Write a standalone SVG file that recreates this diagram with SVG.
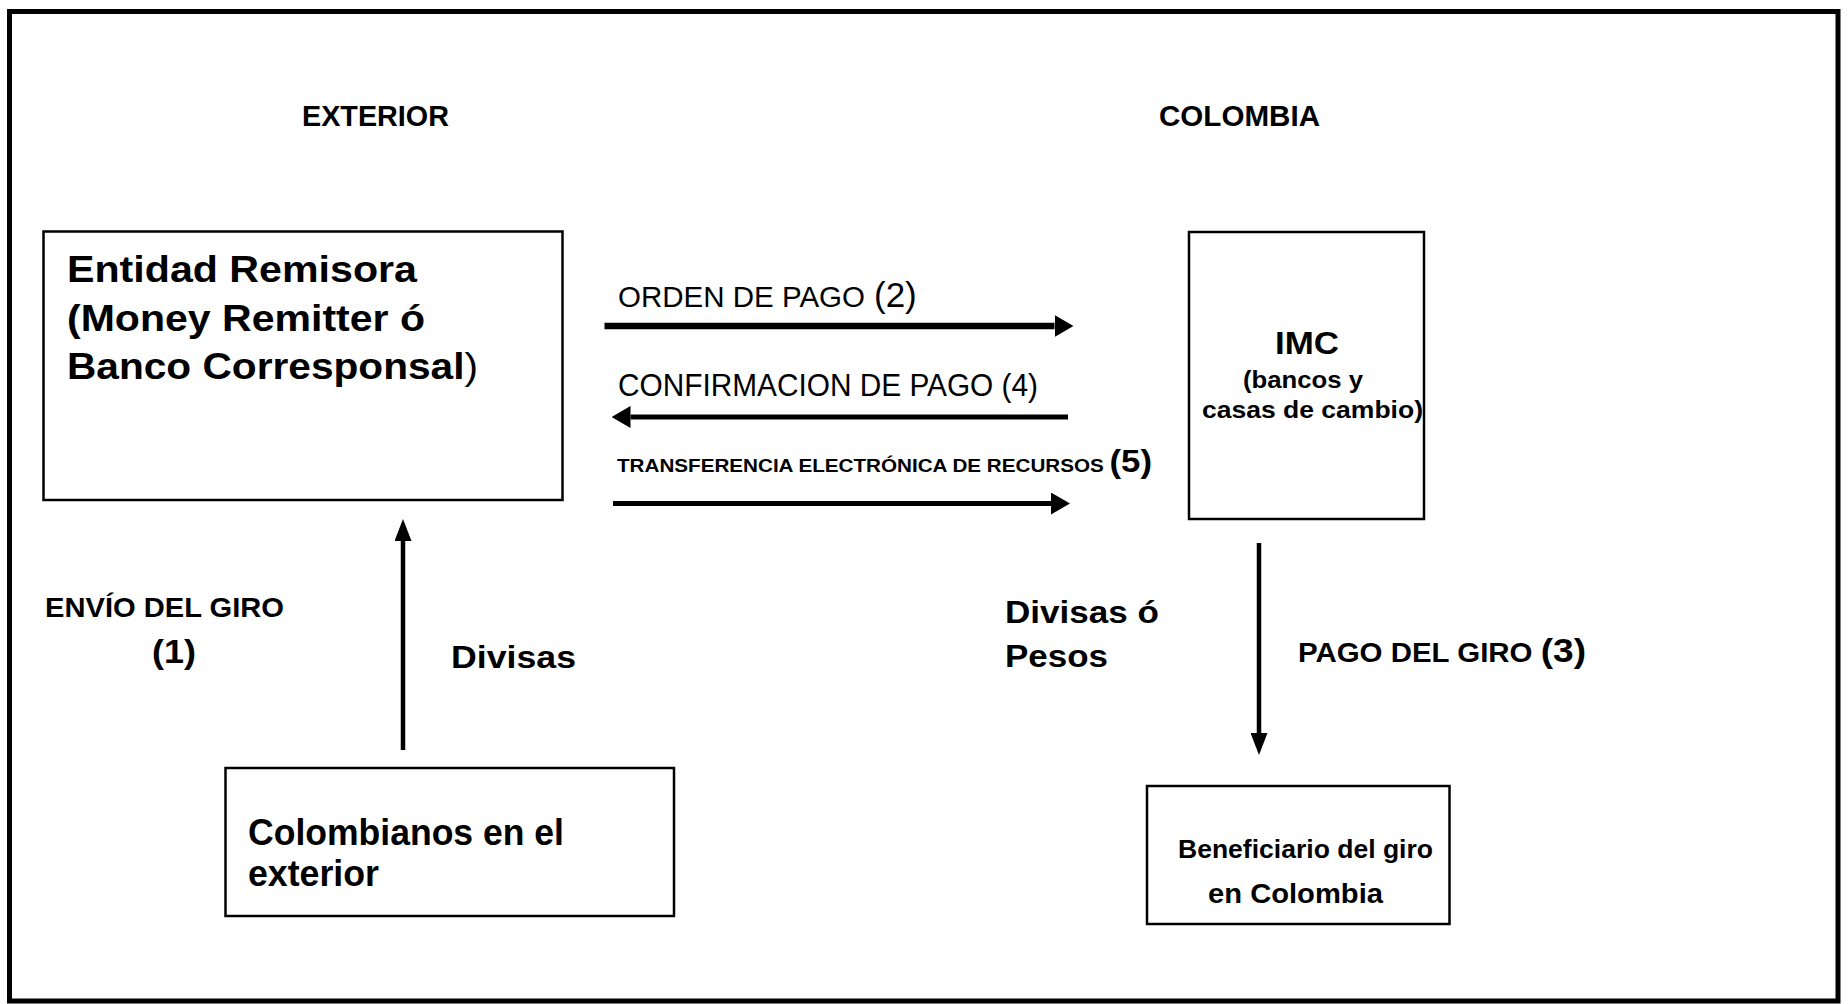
<svg xmlns="http://www.w3.org/2000/svg" width="1848" height="1004" viewBox="0 0 1848 1004">
  <style>
    text { font-family: "Liberation Sans", Arial, sans-serif; fill: #000; }
    .b { font-weight: bold; }
    .r { font-weight: normal; }
    .box { fill: #fff; stroke: #000; stroke-width: 2.5; }
    .frame { fill: #fff; stroke: #000; stroke-width: 5; }
    .conn { stroke: #000; fill: none; }
  </style>
  <defs>
    <marker id="ah" markerUnits="userSpaceOnUse" viewBox="0 0 19 22" markerWidth="19" markerHeight="22" refX="0" refY="11" orient="auto">
      <path d="M0,0 L19,11 L0,22 z" fill="#000"/>
    </marker>
    <marker id="av" markerUnits="userSpaceOnUse" viewBox="0 0 22 17" markerWidth="22" markerHeight="17" refX="0" refY="8.5" orient="auto">
      <path d="M0,0 L22,8.5 L0,17 z" fill="#000"/>
    </marker>
  </defs>

  <rect class="frame" x="9.5" y="11.5" width="1828.5" height="989.5"/>

  <g id="region-labels">
    <text class="b" x="302" y="126" font-size="29" textLength="147" lengthAdjust="spacingAndGlyphs">EXTERIOR</text>
    <text class="b" x="1159" y="126" font-size="29" textLength="161" lengthAdjust="spacingAndGlyphs">COLOMBIA</text>
  </g>

  <g id="node-entidad">
    <rect class="box" x="43.5" y="231.5" width="519" height="268.5"/>
    <text class="b" x="67" y="282" font-size="37" textLength="350" lengthAdjust="spacingAndGlyphs">Entidad Remisora</text>
    <text class="b" x="67" y="331" font-size="37" textLength="358" lengthAdjust="spacingAndGlyphs">(Money Remitter ó</text>
    <text class="b" x="67" y="379" font-size="37" textLength="411" lengthAdjust="spacingAndGlyphs">Banco Corresponsal<tspan class="r">)</tspan></text>
  </g>

  <g id="node-imc">
    <rect class="box" x="1189" y="232" width="235" height="287"/>
    <text class="b" x="1275" y="354" font-size="32" textLength="64" lengthAdjust="spacingAndGlyphs">IMC</text>
    <text class="b" x="1243" y="388" font-size="24" textLength="120" lengthAdjust="spacingAndGlyphs">(bancos y</text>
    <text class="b" x="1202" y="418" font-size="24" textLength="221" lengthAdjust="spacingAndGlyphs">casas de cambio)</text>
  </g>

  <g id="node-colombianos">
    <rect class="box" x="225.5" y="768" width="448.5" height="148"/>
    <text class="b" x="248" y="845" font-size="36" textLength="316" lengthAdjust="spacingAndGlyphs">Colombianos en el</text>
    <text class="b" x="248" y="886" font-size="36" textLength="131" lengthAdjust="spacingAndGlyphs">exterior</text>
  </g>

  <g id="node-beneficiario">
    <rect class="box" x="1147" y="786" width="302.5" height="138"/>
    <text class="b" x="1178" y="858" font-size="25" textLength="255" lengthAdjust="spacingAndGlyphs">Beneficiario del giro</text>
    <text class="b" x="1208" y="903" font-size="27" textLength="175" lengthAdjust="spacingAndGlyphs">en Colombia</text>
  </g>

  <g id="connectors">
    <line class="conn" x1="604.5" y1="326" x2="1054.5" y2="326" stroke-width="6.5" marker-end="url(#ah)"/>
    <line class="conn" x1="1068" y1="417" x2="630.5" y2="417" stroke-width="5" marker-end="url(#ah)"/>
    <line class="conn" x1="613" y1="503.5" x2="1051" y2="503.5" stroke-width="5" marker-end="url(#ah)"/>
    <line class="conn" x1="403" y1="750" x2="403" y2="541" stroke-width="4.5" marker-end="url(#av)"/>
    <line class="conn" x1="1259" y1="543" x2="1259" y2="733" stroke-width="4.5" marker-end="url(#av)"/>
  </g>

  <g id="connector-labels">
    <text class="r" x="618" y="307" font-size="29.5">ORDEN DE PAGO</text>
    <text class="r" x="874" y="307" font-size="35">(2)</text>
    <text class="r" x="618" y="396" font-size="32" textLength="420" lengthAdjust="spacingAndGlyphs">CONFIRMACION DE PAGO (4)</text>
    <text class="b" x="617" y="472" font-size="19" textLength="535" lengthAdjust="spacingAndGlyphs">TRANSFERENCIA ELECTRÓNICA DE RECURSOS <tspan font-size="32">(5)</tspan></text>
    <text class="b" x="45" y="617" font-size="28" textLength="239" lengthAdjust="spacingAndGlyphs">ENVÍO DEL GIRO</text>
    <text class="b" x="152" y="663" font-size="34" textLength="44" lengthAdjust="spacingAndGlyphs">(1)</text>
    <text class="b" x="451" y="668" font-size="32" textLength="125" lengthAdjust="spacingAndGlyphs">Divisas</text>
    <text class="b" x="1005" y="623" font-size="32" textLength="154" lengthAdjust="spacingAndGlyphs">Divisas ó</text>
    <text class="b" x="1005" y="667" font-size="32" textLength="103" lengthAdjust="spacingAndGlyphs">Pesos</text>
    <text class="b" x="1298" y="662" font-size="27" textLength="288" lengthAdjust="spacingAndGlyphs">PAGO DEL GIRO <tspan font-size="34">(3)</tspan></text>
  </g>
</svg>
